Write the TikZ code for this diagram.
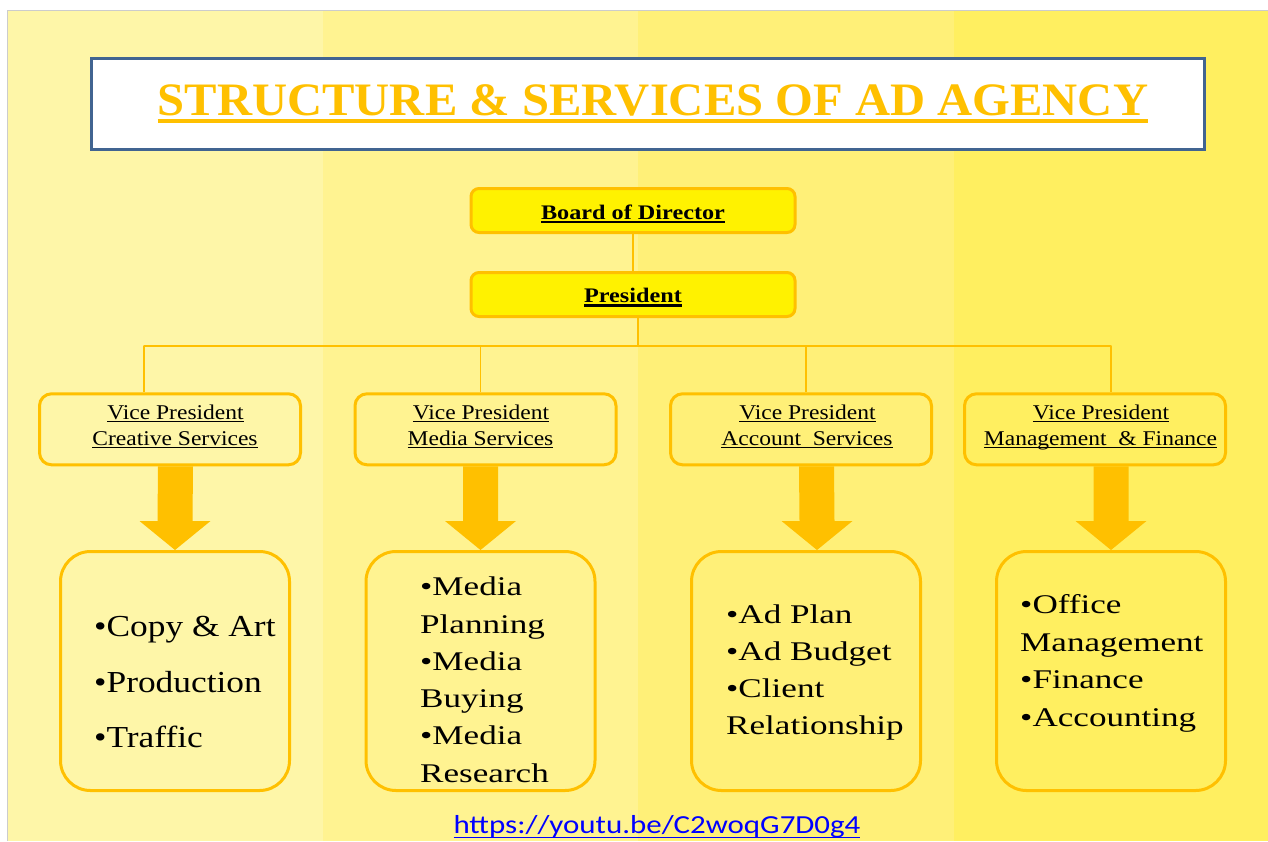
\documentclass[tikz,border=0pt]{standalone}
\usepackage{fontspec}
\usetikzlibrary{calc}
\setmainfont{Liberation Serif}
\newfontfamily\headfont[FakeStretch=1.045]{Liberation Serif}
\newfontfamily\chieffont[FakeStretch=1.17]{Liberation Serif}
\newfontfamily\vpfont[FakeStretch=1.12]{Liberation Serif}
\newfontfamily\listAfont[FakeStretch=1.16]{Liberation Serif}
\newfontfamily\listBfont[FakeStretch=1.3]{Liberation Serif}
\newfontfamily\linkfont[FakeStretch=1.19]{Carlito}

\definecolor{gold}{HTML}{FFC000}
\definecolor{bandA}{RGB}{254,246,168}
\definecolor{bandB}{RGB}{255,243,145}
\definecolor{bandC}{RGB}{255,240,120}
\definecolor{bandD}{RGB}{255,239,96}
\definecolor{frameblue}{RGB}{65,100,145}
\definecolor{linkblue}{RGB}{0,0,255}

% underline with given thickness (#1) and bottom depth (#2)
\newcommand\ulrule[3]{\leavevmode\setbox0\hbox{#3}\rlap{\rule[-#2]{\wd0}{#1}}\box0}

\tikzset{
  conn/.style={draw=gold, line width=1.6pt},
  chiefbox/.style={draw=gold, fill=yellow, line width=3pt, rounded corners=8pt,
    minimum width=324pt, minimum height=44pt, inner sep=0pt},
  vpbox/.style={draw=gold, line width=3pt, rounded corners=12pt,
    minimum width=261pt, minimum height=71pt, inner sep=0pt},
  listbox/.style={draw=gold, line width=3pt, rounded corners=30pt,
    minimum width=229pt, minimum height=239pt, inner sep=0pt},
  txt/.style={inner sep=0pt, anchor=base},
  chieftxt/.style={txt, font=\chieffont\bfseries\fontsize{20.7}{24}\selectfont},
  vptxt/.style={txt, font=\vpfont\fontsize{21}{25}\selectfont},
  itemA/.style={inner sep=0pt, anchor=base west, font=\listAfont\fontsize{30.5}{36}\selectfont},
  itemB/.style={inner sep=0pt, anchor=base west, font=\listBfont\fontsize{27}{32}\selectfont},
}

% block arrow from #1 (top of shaft) to #2 (tip)
\newcommand\blockarrow[2]{%
  \fill[gold] ($(#1)+(-17.5,0)$) -- ($(#1)+(17.5,0)$) -- ($(#2)+(17.5,-29)$)
    -- ($(#2)+(35.5,-29)$) -- (#2) -- ($(#2)+(-35.5,-29)$)
    -- ($(#2)+(-17.5,-29)$) -- cycle;}

\begin{document}
\begin{tikzpicture}[x=1pt, y=-1pt]
  \fill[white] (0,0) rectangle (1268,841);
  \useasboundingbox (0,0) rectangle (1268,841);

  % background bands
  \fill[bandA] (8,11) rectangle (323,841);
  \fill[bandB] (323,11) rectangle (638,841);
  \fill[bandC] (638,11) rectangle (954,841);
  \fill[bandD] (954,11) rectangle (1268,841);
  \draw[black!20, line width=0.8pt] (7.6,841) -- (7.6,10.6) -- (1268,10.6);

  % heading
  \node[draw=frameblue, fill=white, line width=3pt, minimum width=1113pt,
        minimum height=91pt, inner sep=0pt] (titlebox) at (648,104) {};
  \node[txt, font=\headfont\bfseries\fontsize{46.5}{50}\selectfont, text=gold]
        (title) at (653,115) {\ulrule{3.6pt}{7.6pt}{STRUCTURE \& SERVICES OF AD AGENCY}};

  % board and president
  \node[chiefbox] (board) at (633,210.5) {};
  \node[chieftxt] (boardtxt) at (633,219.3) {\ulrule{2.6pt}{3.8pt}{Board of Director}};
  \node[chiefbox] (president) at (633,294.5) {};
  \node[chieftxt] (presidenttxt) at (633,302.7) {\ulrule{2.6pt}{3.8pt}{President}};

  % vice presidents
  \node[vpbox] (vp1) at (170,429.3) {};
  \node[vpbox] (vp2) at (485.5,429.3) {};
  \node[vpbox] (vp3) at (801,429.3) {};
  \node[vpbox] (vp4) at (1095,429.3) {};

  \node[vptxt] (vp1a) at (175.5,419) {\ulrule{1pt}{3.3pt}{Vice President}};
  \node[vptxt] (vp1b) at (175,445) {\ulrule{1pt}{3.3pt}{Creative Services}};
  \node[vptxt] (vp2a) at (481,419) {\ulrule{1pt}{3.3pt}{Vice President}};
  \node[vptxt] (vp2b) at (480.5,445) {\ulrule{1pt}{3.3pt}{Media Services}};
  \node[vptxt] (vp3a) at (807.5,419) {\ulrule{1pt}{3.3pt}{Vice President}};
  \node[vptxt] (vp3b) at (807,445) {\ulrule{1pt}{3.3pt}{Account\ \ Services}};
  \node[vptxt] (vp4a) at (1101,419) {\ulrule{1pt}{3.3pt}{Vice President}};
  \node[vptxt] (vp4b) at (1100.5,445) {\ulrule{1pt}{3.3pt}{Management\ \ \& Finance}};

  % connectors
  \coordinate (bp) at (638,346);
  \coordinate (b1) at (144,346);
  \coordinate (b2) at (480.5,346);
  \coordinate (b3) at (806,346);
  \coordinate (b4) at (1111,346);
  \draw[conn] (board.south) -- (president.north);
  \draw[conn] (bp |- president.south) -- (bp);
  \draw[conn, line cap=round] (b1) -- (b4);
  \draw[conn] (b1) -- (b1 |- vp1.north);
  \draw[conn] (b2) -- (b2 |- vp2.north);
  \draw[conn] (b3) -- (b3 |- vp3.north);
  \draw[conn] (b4) -- (b4 |- vp4.north);

  % service boxes
  \node[listbox] (cb1) at (175,671) {};
  \node[listbox] (cb2) at (480.5,671) {};
  \node[listbox] (cb3) at (806,671) {};
  \node[listbox] (cb4) at (1111,671) {};

  % block arrows
  \blockarrow{$(vp1.south)+(5.5,0)$}{cb1.north}
  \blockarrow{$(vp2.south)+(-5,0)$}{cb2.north}
  \blockarrow{$(vp3.south)+(15.5,0)$}{$(cb3.north)+(11,0)$}
  \blockarrow{$(vp4.south)+(16,0)$}{cb4.north}

  % service lists
  \node[itemA] (c1a) at (94,636) {•Copy \& Art};
  \node[itemA] (c1b) at (94,692) {•Production};
  \node[itemA] (c1c) at (94,747) {•Traffic};

  \node[itemB] (c2a) at (420,595) {•Media};
  \node[itemB] (c2b) at (420,633) {Planning};
  \node[itemB] (c2c) at (420,670) {•Media};
  \node[itemB] (c2d) at (420,707) {Buying};
  \node[itemB] (c2e) at (420,744) {•Media};
  \node[itemB] (c2f) at (420,782) {Research};

  \node[itemB] (c3a) at (726,623) {•Ad Plan};
  \node[itemB] (c3b) at (726,660) {•Ad Budget};
  \node[itemB] (c3c) at (726,697) {•Client};
  \node[itemB] (c3d) at (726,734) {Relationship};

  \node[itemB] (c4a) at (1020,613) {•Office};
  \node[itemB] (c4b) at (1020,651) {Management};
  \node[itemB] (c4c) at (1020,688) {•Finance};
  \node[itemB] (c4d) at (1020,726) {•Accounting};

  % link
  \node[txt, font=\linkfont\fontsize{26}{30}\selectfont, text=linkblue]
        (link) at (657,833.3) {\ulrule{1.5pt}{5pt}{https://youtu.be/C2woqG7D0g4}};
\end{tikzpicture}
\end{document}
